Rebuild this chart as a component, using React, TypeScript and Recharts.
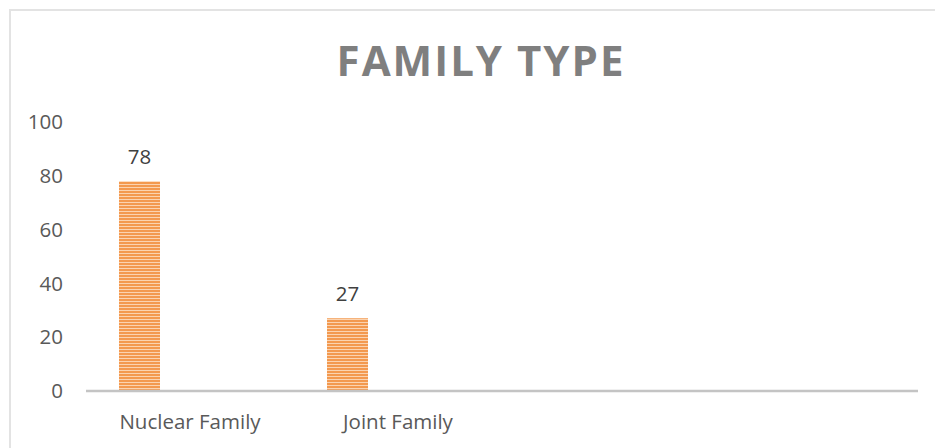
import React from "react";
import { BarChart, Bar, XAxis, YAxis, LabelList } from "recharts";

const categories = ["Nuclear Family", "Joint Family", "", ""];
const familyCounts: (number | null)[] = [78, 27, null, null];
const yTicks = [0, 20, 40, 60, 80, 100];
const title = "FAMILY TYPE";

const data = categories.map((name, i) => ({
  name,
  value: familyCounts[i],
  s2: null as number | null,
  s3: null as number | null,
}));

const FONT = "'Open Sans', sans-serif";

export default function App() {
  return (
    <div
      style={{
        position: "absolute",
        left: 9,
        top: 9,
        width: 924,
        height: 437,
        borderLeft: "2px solid #e3e3e3",
        borderTop: "2px solid #e3e3e3",
        background: "#ffffff",
        overflow: "hidden",
        fontFamily: FONT,
      }}
    >
      <div
        style={{
          position: "absolute",
          left: 0,
          top: 20,
          width: 940,
          textAlign: "center",
          fontFamily: FONT,
          fontWeight: 700,
          fontSize: 42,
          letterSpacing: 2,
          color: "#7f7f7f",
          lineHeight: "normal",
          whiteSpace: "nowrap",
        }}
      >
        {title}
      </div>
      <BarChart
        width={924}
        height={437}
        data={data}
        margin={{ top: 111, right: 17, bottom: 0, left: 0 }}
        barCategoryGap={33}
        barGap={9}
      >
        <defs>
          <pattern id="stripes" width="6" height="3" patternUnits="userSpaceOnUse">
            <rect x="0" y="0" width="6" height="3" fill="#fbd3b0" />
            <rect x="0" y="0" width="6" height="2" fill="#f3994f" />
          </pattern>
        </defs>
        <XAxis
          dataKey="name"
          height={57}
          tickLine={false}
          axisLine={{ stroke: "#c4c4c4", strokeWidth: 2.5 }}
          tickSize={6}
          tickMargin={17}
          interval={0}
          tick={{ fill: "#595959", fontSize: 20.5, fontFamily: FONT }}
        />
        <YAxis
          width={75}
          domain={[0, 100]}
          ticks={yTicks}
          tickLine={false}
          axisLine={false}
          tickSize={6}
          tickMargin={17}
          tick={{ fill: "#595959", fontSize: 20.5, fontFamily: FONT }}
        />
        <Bar dataKey="value" fill="url(#stripes)" isAnimationActive={false}>
          <LabelList
            dataKey="value"
            position="top"
            offset={17}
            fill="#404040"
            fontSize={20.5}
            fontFamily={FONT}
          />
        </Bar>
        <Bar dataKey="s2" fill="#a5a5a5" isAnimationActive={false} />
        <Bar dataKey="s3" fill="#ffc000" isAnimationActive={false} />
      </BarChart>
    </div>
  );
}
